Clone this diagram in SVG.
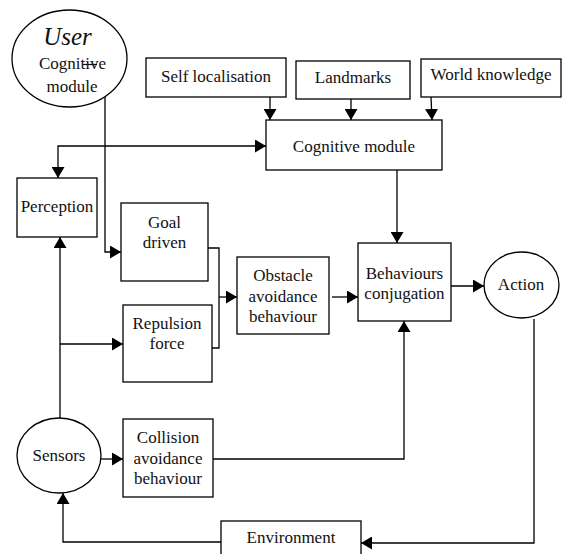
<svg xmlns="http://www.w3.org/2000/svg" width="573" height="554" viewBox="0 0 573 554">
<style>
  .box{fill:#fff;stroke:#000;stroke-width:1.3}
  .t{font-family:"Liberation Serif","Times New Roman",serif;font-size:17px;fill:#111;text-anchor:middle}
  .c{fill:none;stroke:#000;stroke-width:1.3}
  .a{marker-end:url(#arr)}
</style>
<defs>
  <marker id="arr" viewBox="0 0 11 13" refX="11" refY="6.5" markerWidth="11" markerHeight="13" markerUnits="userSpaceOnUse" orient="auto-start-reverse">
    <path d="M0,0 L11,6.5 L0,13 z" fill="#000"/>
  </marker>
</defs>
<rect width="573" height="554" fill="#fff"/>
<g id="connectors">
  <path class="c a" d="M105,97 V252 H121"/>
  <path class="c a" d="M266,146 H58 V178" marker-start="url(#arr)"/>
  <path class="c a" d="M270,97 V120"/>
  <path class="c a" d="M351,99 V120"/>
  <path class="c a" d="M431,97 L432,120"/>
  <path class="c a" d="M397,170 V243"/>
  <path class="c a" d="M60,418 V237"/>
  <path class="c a" d="M60,344 H123"/>
  <path class="c" d="M208,248 H219 V348 H212"/>
  <path class="c a" d="M219,297 H237"/>
  <path class="c a" d="M332,297 H358"/>
  <path class="c a" d="M451,286 H484"/>
  <path class="c a" d="M534,319 V543 H361"/>
  <path class="c a" d="M221,542 H63 V493"/>
  <path class="c a" d="M101,459 H123"/>
  <path class="c a" d="M213,459 H404 V321"/>
</g>
<g id="user">
  <ellipse class="box" cx="69.5" cy="58.5" rx="57.5" ry="48.5"/>
  <text class="t" x="67.5" y="45" style="font-size:25px;font-style:italic">User</text>
  <text class="t" x="72.5" y="68.5">Cognitive</text>
  <text class="t" x="72" y="92">module</text>
  <line x1="83" y1="64.5" x2="97" y2="64.5" stroke="#111" stroke-width="1.2"/>
</g>
<g id="self-localisation">
  <rect class="box" x="146" y="58" width="140" height="39"/>
  <text class="t" x="216" y="82">Self localisation</text>
</g>
<g id="landmarks">
  <rect class="box" x="296" y="61" width="114" height="38"/>
  <text class="t" x="353" y="83">Landmarks</text>
</g>
<g id="world-knowledge">
  <rect class="box" x="421" y="59" width="140" height="38"/>
  <text class="t" x="491" y="80">World knowledge</text>
</g>
<g id="cognitive-module">
  <rect class="box" x="266" y="120" width="176" height="50"/>
  <text class="t" x="354" y="152">Cognitive module</text>
</g>
<g id="perception">
  <rect class="box" x="17" y="178" width="80" height="59"/>
  <text class="t" x="57" y="212">Perception</text>
</g>
<g id="goal-driven">
  <rect class="box" x="121" y="203" width="87" height="78"/>
  <text class="t" x="164.5" y="228">Goal</text>
  <text class="t" x="164.5" y="248">driven</text>
</g>
<g id="repulsion-force">
  <rect class="box" x="123" y="305" width="89" height="77"/>
  <text class="t" x="167" y="329">Repulsion</text>
  <text class="t" x="167" y="349">force</text>
</g>
<g id="obstacle-avoidance">
  <rect class="box" x="237" y="257" width="92" height="77"/>
  <text class="t" x="283" y="281">Obstacle</text>
  <text class="t" x="283" y="302">avoidance</text>
  <text class="t" x="283" y="322">behaviour</text>
</g>
<g id="behaviours-conjugation">
  <rect class="box" x="358" y="243" width="93" height="78"/>
  <text class="t" x="404.5" y="279">Behaviours</text>
  <text class="t" x="404.5" y="299">conjugation</text>
</g>
<g id="action">
  <ellipse class="box" cx="521.5" cy="285" rx="37.5" ry="33"/>
  <text class="t" x="521" y="290">Action</text>
</g>
<g id="sensors">
  <ellipse class="box" cx="59" cy="455.5" rx="42" ry="37.5"/>
  <text class="t" x="59" y="461">Sensors</text>
</g>
<g id="collision-avoidance">
  <rect class="box" x="123" y="419" width="90" height="78"/>
  <text class="t" x="168" y="443">Collision</text>
  <text class="t" x="168" y="464">avoidance</text>
  <text class="t" x="168" y="484">behaviour</text>
</g>
<g id="environment">
  <rect class="box" x="221" y="521" width="140" height="40"/>
  <text class="t" x="291" y="543">Environment</text>
</g>
</svg>
